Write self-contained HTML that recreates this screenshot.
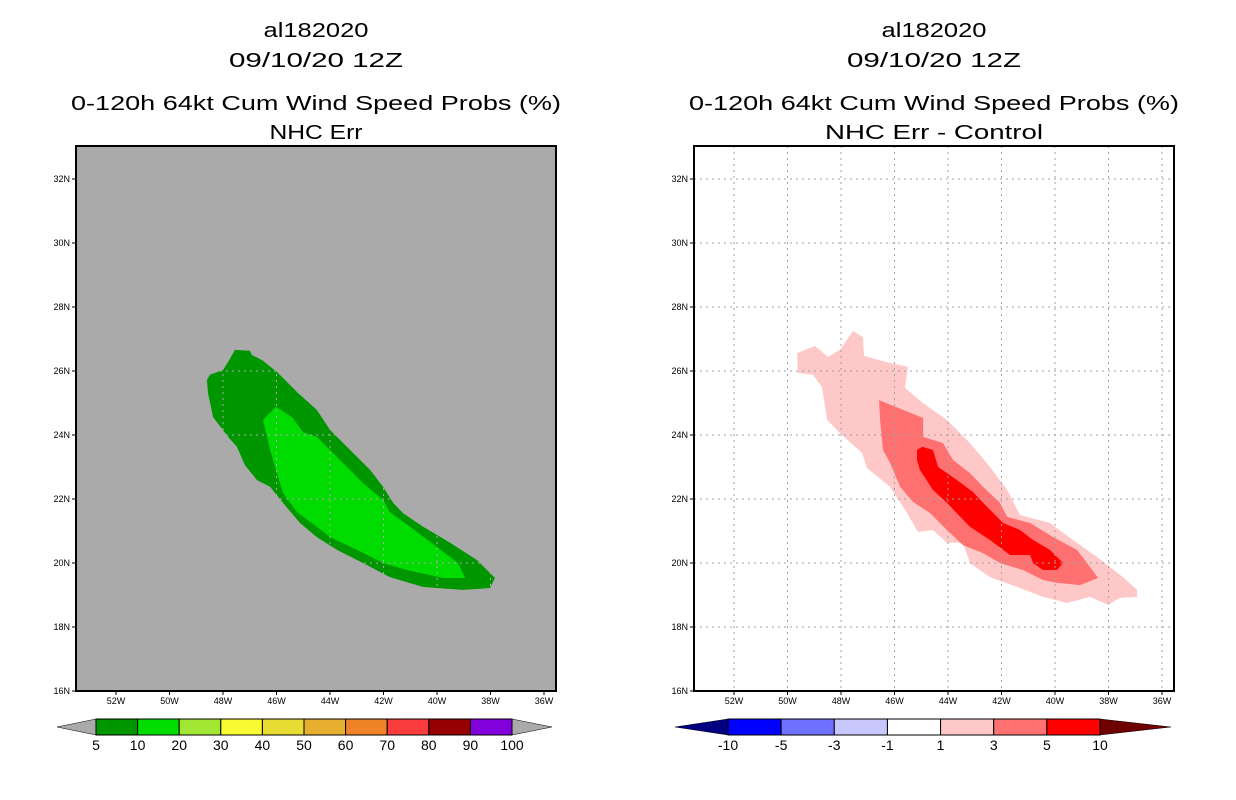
<!DOCTYPE html>
<html><head><meta charset="utf-8"><style>
html,body{margin:0;padding:0;background:#fff;}
svg{display:block;font-family:"Liberation Sans",sans-serif;}
</style></head><body>
<svg id="chart" width="1236" height="800" viewBox="0 0 1236 800" xmlns="http://www.w3.org/2000/svg"></svg>
<script>
const latTicks=[16,18,20,22,24,26,28,30,32];
const lonTicks=[52,50,48,46,44,42,40,38,36];
const leftTitles=["al182020","09/10/20 12Z","0-120h 64kt Cum Wind Speed Probs (%)","NHC Err"];
const rightTitles=["al182020","09/10/20 12Z","0-120h 64kt Cum Wind Speed Probs (%)","NHC Err - Control"];
const probLabels=["5","10","20","30","40","50","60","70","80","90","100"];
const probColors=["#009600","#00dc00","#a0e632","#fafa32","#e6dc32","#e6af2d","#f08228","#fa3c3c","#960000","#8200dc"];
const diffLabels=["-10","-5","-3","-1","1","3","5","10"];
const diffColors=["#0000ff","#7070ff","#c8c8ff","#ffffff","#ffc8c8","#ff7070","#ff0000"];
// contour polygons [lonW, latN]
const green5=[[47.55,26.66],[46.99,26.63],[46.92,26.5],[46.54,26.34],[45.98,25.97],[45.23,25.34],[44.49,24.78],[44.0,24.16],[43.25,23.53],[42.5,22.91],[42.02,22.38],[41.64,21.88],[41.27,21.56],[40.52,21.13],[39.51,20.63],[38.5,20.09],[37.83,19.53],[38.02,19.22],[39.03,19.16],[40.52,19.25],[41.76,19.56],[42.77,20.0],[43.74,20.41],[44.49,20.81],[45.12,21.25],[45.76,21.88],[46.24,22.38],[46.73,22.59],[47.18,23.06],[47.48,23.63],[47.81,23.94],[48.37,24.56],[48.56,25.31],[48.6,25.72],[48.49,25.88],[48.0,26.03],[47.81,26.28]];
const green10=[[46.02,24.88],[45.42,24.56],[45.01,24.09],[44.49,23.94],[44.0,23.53],[43.36,23.0],[42.77,22.5],[42.02,21.97],[41.76,21.59],[41.01,21.13],[40.0,20.5],[39.21,20.0],[38.95,19.53],[39.78,19.53],[41.12,19.78],[42.02,20.0],[42.99,20.41],[44.0,20.81],[44.49,21.13],[45.23,21.59],[45.76,22.19],[45.98,22.81],[46.24,23.53],[46.5,24.47]];
const diff1=[[49.64,26.56],[48.97,26.78],[48.49,26.44],[48.04,26.66],[47.55,27.25],[47.18,27.06],[47.14,26.47],[46.17,26.25],[45.5,26.13],[45.61,25.47],[44.93,25.0],[44.04,24.47],[43.18,23.75],[42.43,23.0],[41.79,22.28],[41.31,21.5],[40.19,21.25],[39.33,20.72],[38.43,20.19],[37.46,19.56],[36.93,19.16],[36.93,18.94],[37.57,18.91],[38.02,18.69],[38.69,18.94],[39.55,18.75],[40.45,18.94],[41.42,19.25],[42.43,19.56],[43.18,20.0],[43.44,20.63],[44.04,20.63],[44.56,21.03],[45.12,20.97],[45.53,21.56],[46.17,22.38],[47.03,22.97],[47.21,23.44],[48.04,24.06],[48.52,24.47],[48.71,25.5],[49.05,25.88],[49.61,25.94]];
const diff3=[[46.58,25.09],[44.93,24.53],[44.93,23.94],[44.19,23.75],[43.81,23.22],[43.18,22.81],[42.69,22.38],[42.06,21.88],[41.79,21.44],[40.93,21.25],[40.07,20.81],[39.18,20.41],[38.8,20.0],[38.39,19.53],[39.07,19.31],[39.93,19.38],[40.45,19.47],[41.2,19.78],[42.06,20.0],[42.69,20.31],[43.44,20.56],[44.04,21.03],[44.67,21.56],[45.31,21.91],[45.79,22.38],[46.17,23.13],[46.43,23.53],[46.54,24.47]];
const diff5=[[45.16,23.53],[44.97,23.63],[44.56,23.53],[44.37,23.0],[43.66,22.59],[43.07,22.22],[42.69,21.88],[41.94,21.25],[41.31,21.03],[40.82,20.72],[40.19,20.41],[39.7,20.0],[39.93,19.78],[40.45,19.78],[40.82,20.0],[40.93,20.25],[41.68,20.25],[42.43,20.72],[43.18,21.13],[44.04,21.88],[44.56,22.28],[45.05,22.91],[45.16,23.22]];

const NS="http://www.w3.org/2000/svg";
const svg=document.getElementById('chart');
function mk(tag,attrs,parent){const e=document.createElementNS(NS,tag);for(const k in attrs)e.setAttribute(k,attrs[k]);(parent||svg).appendChild(e);return e;}
function panel(ox,titles,bg,name){
  const g=mk('g',{});
  
  
  const X=lon=>ox+116+(52-lon)*26.75;
  const Y=lat=>691-(lat-16)*32;
  const x0=ox+76,x1=ox+556,y0=146,y1=691;
  const bgr=mk('rect',{x:x0,y:y0,width:x1-x0,height:y1-y0,fill:bg},g);
  
  
  const ys=[30,60,103,132],sz=[20,20,20,20],lens=[105,174,490,ox?218:93];
  titles.forEach((t,i)=>{const e=mk('text',{x:ox+316,y:ys[i]+7,'text-anchor':'middle','font-size':sz[i],textLength:lens[i],lengthAdjust:'spacingAndGlyphs',fill:'#000'},g);e.textContent=t;
    
    });
  return {g,X,Y,x0,x1,y0,y1};
}
function poly(p,pts,fill,name){
  const e=mk('polygon',{points:pts.map(q=>p.X(q[0]).toFixed(1)+','+p.Y(q[1]).toFixed(1)).join(' '),fill:fill},p.g);
  
  
}
function axes(p,gridColor){
  lonTicks.forEach(l=>{const x=p.X(l);
    const gl=mk('line',{x1:x,x2:x,y1:p.y0,y2:p.y1,stroke:gridColor,'stroke-width':1,'stroke-dasharray':'2,4'},p.g);
    
    
    mk('line',{x1:x,x2:x,y1:p.y1,y2:p.y1+4,stroke:'#000'},p.g);
    const t=mk('text',{x:x,y:p.y1+13,'text-anchor':'middle','font-size':9,fill:'#000'},p.g);t.textContent=l+'W';
    
    });
  latTicks.forEach(l=>{const y=p.Y(l);
    if(l>16&&l<33){const gl=mk('line',{x1:p.x0,x2:p.x1,y1:y,y2:y,stroke:gridColor,'stroke-width':1,'stroke-dasharray':'2,4'},p.g);
    
    }
    mk('line',{x1:p.x0-4,x2:p.x0,y1:y,y2:y,stroke:'#000'},p.g);
    const t=mk('text',{x:p.x0-6,y:y+3,'text-anchor':'end','font-size':9,fill:'#000'},p.g);t.textContent=l+'N';
    
    });
  const b=mk('rect',{x:p.x0,y:p.y0,width:p.x1-p.x0,height:p.y1-p.y0,fill:'none',stroke:'#000','stroke-width':2},p.g);
  
  
}
function colorbar(p,bx0,bx1,tl,tr,cols,labels,lc,rc,name){
  const g=mk('g',{},p.g);
  
  
  const y0=719,y1=735,ym=727,w=(bx1-bx0)/cols.length;
  mk('polygon',{points:`${tl},${ym} ${bx0},${y0} ${bx0},${y1}`,fill:lc,stroke:'#000','stroke-width':0.5},g);
  mk('polygon',{points:`${tr},${ym} ${bx1},${y0} ${bx1},${y1}`,fill:rc,stroke:'#000','stroke-width':0.5},g);
  cols.forEach((c,i)=>{const r=mk('rect',{x:bx0+i*w,y:y0,width:w,height:y1-y0,fill:c,stroke:'#000','stroke-width':1},g);
    
    });
  labels.forEach((l,i)=>{const t=mk('text',{x:bx0+i*w,y:750,'text-anchor':'middle','font-size':14,fill:'#000'},g);t.textContent=l;
    
    });
}
const L=panel(0,leftTitles,'#aaaaaa','left-panel');
poly(L,green5,probColors[0],'prob-5-contour');
poly(L,green10,probColors[1],'prob-10-contour');
axes(L,'#aaaaaa');
colorbar(L,96,512,57,552,probColors,probLabels,'#aaaaaa','#aaaaaa','prob-colorbar');
const R=panel(618,rightTitles,'#ffffff','right-panel');
poly(R,diff1,diffColors[4],'diff-1-contour');
poly(R,diff3,diffColors[5],'diff-3-contour');
poly(R,diff5,diffColors[6],'diff-5-contour');
axes(R,'#a0a0a0');
colorbar(R,728,1100,675,1171,diffColors,diffLabels,'#000080','#6e0000','diff-colorbar');
</script>
</body></html>
